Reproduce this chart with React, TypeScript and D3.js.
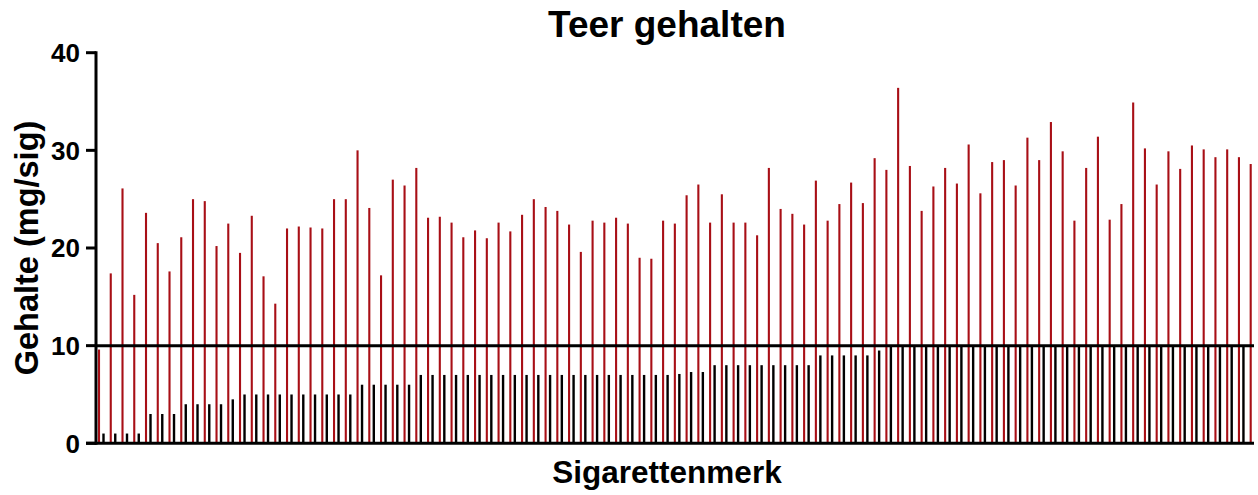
import React from "react";
import * as d3 from "d3";

// Measured tar content (red) per cigarette brand
const measured: number[] = [
  9.6, 17.4, 26.1, 15.2, 23.6, 20.5, 17.6, 21.1, 25.0, 24.8,
  20.2, 22.5, 19.5, 23.3, 17.1, 14.3, 22.0, 22.2, 22.1, 22.0,
  25.0, 25.0, 30.0, 24.1, 17.2, 27.0, 26.4, 28.2, 23.1, 23.2,
  22.6, 21.1, 21.8, 21.0, 22.6, 21.7, 23.4, 25.0, 24.2, 23.8,
  22.4, 19.6, 22.8, 22.6, 23.1, 22.5, 19.0, 18.9, 22.8, 22.5,
  25.4, 26.5, 22.6, 25.5, 22.6, 22.6, 21.3, 28.2, 24.0, 23.5,
  22.4, 26.9, 22.8, 24.5, 26.7, 24.6, 29.2, 28.0, 36.4, 28.4,
  23.8, 26.3, 28.2, 26.6, 30.6, 25.6, 28.8, 29.0, 26.4, 31.3,
  29.0, 32.9, 29.9, 22.8, 28.2, 31.4, 22.9, 24.5, 34.9, 30.2,
  26.5, 29.9, 28.1, 30.5, 30.1, 29.3, 30.1, 29.3, 28.6,
];

// Stated tar content (black) per cigarette brand
const stated: number[] = [
  1, 1, 1, 1, 3, 3, 3, 4, 4, 4,
  4, 4.5, 5, 5, 5, 5, 5, 5, 5, 5,
  5, 5, 6, 6, 6, 6, 6, 7, 7, 7,
  7, 7, 7, 7, 7, 7, 7, 7, 7, 7,
  7, 7, 7, 7, 7, 7, 7, 7, 7, 7.1,
  7.3, 7.3, 8, 8, 8, 8, 8, 8, 8, 8,
  8, 9, 9, 9, 9, 9, 9.5, 10, 10, 10,
  10, 10, 10, 10, 10, 10, 10, 10, 10, 10,
  10, 10, 10, 10, 10, 10, 10, 10, 10, 10,
  10, 10, 10, 10, 10, 10, 10, 10, 10,
];

const brands: string[] = measured.map((_, i) => `Merk ${i + 1}`);
const yTicks: number[] = [0, 10, 20, 30, 40];
const limitValue = 10;

const W = 1258;
const H = 495;
const axisX = 96;
const plotRight = 1254;
const y0 = 443.3;
const y40 = 52.7;
const bandStart = 97.1;
const step = 11.752;

const FONT = "'Liberation Sans', Arial, Helvetica, sans-serif";
const RED = "#A80F16";

export default function App() {
  const y = d3.scaleLinear().domain([0, 40]).range([y0, y40]);
  const x = d3
    .scaleBand<string>()
    .domain(brands)
    .range([bandStart, bandStart + step * brands.length])
    .padding(0);
  const redW = 2.1;
  const blackW = 2.4;
  const redOff = 1.9;
  const blackOff = 6.4;

  return (
    <svg
      width={W}
      height={H}
      style={{ position: "absolute", left: 0, top: 0, background: "#fff" }}
      fontFamily={FONT}
    >
      <defs>
        <clipPath id="plotclip">
          <rect x={axisX} y={0} width={plotRight - axisX} height={H} />
        </clipPath>
      </defs>
      <text
        x={667}
        y={37}
        textAnchor="middle"
        fontSize={37}
        fontWeight="bold"
        fill="#000"
      >
        Teer gehalten
      </text>
      <g clipPath="url(#plotclip)">
        {brands.map((b, i) => (
          <rect
            key={"r" + b}
            x={(x(b) as number) + redOff - redW / 2}
            y={y(measured[i])}
            width={redW}
            height={y0 - y(measured[i])}
            fill={RED}
          />
        ))}
        {brands.map((b, i) => (
          <rect
            key={"k" + b}
            x={(x(b) as number) + blackOff - blackW / 2}
            y={y(stated[i])}
            width={blackW}
            height={y0 - y(stated[i])}
            fill="#000"
          />
        ))}
      </g>
      {/* limit line */}
      <line
        x1={axisX}
        x2={plotRight}
        y1={y(limitValue)}
        y2={y(limitValue)}
        stroke="#000"
        strokeWidth={3}
      />
      {/* x axis baseline */}
      <line x1={axisX - 10} x2={plotRight} y1={y0} y2={y0} stroke="#000" strokeWidth={3} />
      {/* y axis */}
      <line x1={axisX} x2={axisX} y1={y(40) - 1.5} y2={y0 + 1.5} stroke="#000" strokeWidth={3} />
      {yTicks.map((t) => (
        <g key={t}>
          <line x1={axisX - 10} x2={axisX} y1={y(t)} y2={y(t)} stroke="#000" strokeWidth={3} />
          <text
            x={80}
            y={y(t)}
            dy="0.36em"
            textAnchor="end"
            fontSize={26}
            fontWeight="bold"
            fill="#000"
          >
            {t}
          </text>
        </g>
      ))}
      <text
        transform={`translate(38, ${(y0 + y40) / 2}) rotate(-90)`}
        textAnchor="middle"
        fontSize={32.5}
        fontWeight="bold"
        fill="#000"
      >
        Gehalte (mg/sig)
      </text>
      <text
        x={667}
        y={483}
        textAnchor="middle"
        fontSize={31.5}
        fontWeight="bold"
        fill="#000"
      >
        Sigarettenmerk
      </text>
    </svg>
  );
}
